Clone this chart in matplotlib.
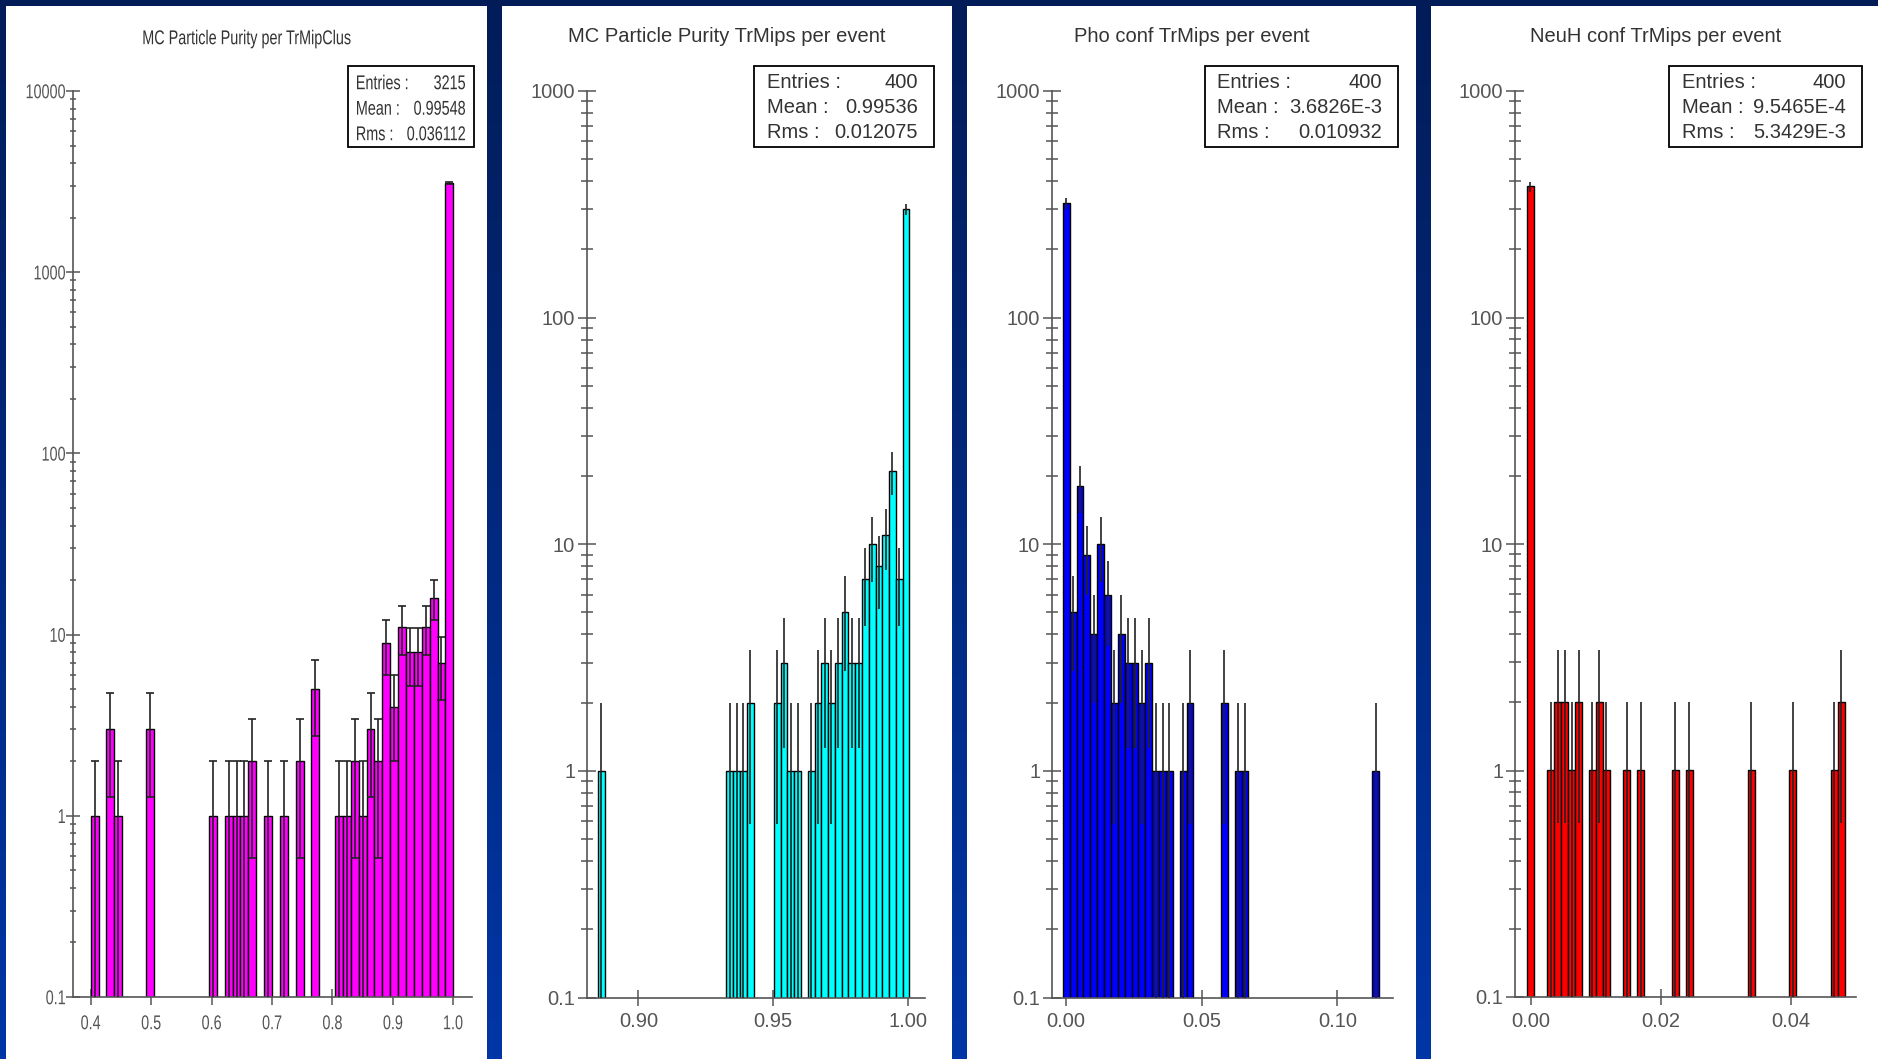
import numpy as np
import matplotlib
matplotlib.use('Agg')
import matplotlib.pyplot as plt
from matplotlib.patches import Rectangle, PathPatch
from matplotlib.ticker import LogLocator, NullFormatter
from matplotlib.textpath import TextPath
from matplotlib.font_manager import FontProperties
from matplotlib.transforms import Affine2D

W, H = 1878, 1059

titles = ['MC Particle Purity per TrMipClus', 'MC Particle Purity TrMips per event',
          'Pho conf TrMips per event', 'NeuH conf TrMips per event']
fill_colors = ['#ff00ff', '#00ffff', '#0000ff', '#ff0000']

# binning (low edge, high edge, number of bins) and bin contents
purity_bins = (0.4, 1.0, 46)
purity_counts = [1, 0, 3, 1, 0, 0, 0, 3, 0, 0, 0, 0, 0, 0, 0, 1, 0, 1, 1, 1,
                 2, 0, 1, 0, 1, 0, 2, 0, 5, 0, 0, 1, 1, 2, 1, 3, 2, 9, 4, 11,
                 8, 8, 11, 16, 7, 3108]

event_purity_bins = (0.8849, 1.0006, 46)
event_purity_counts = [1, 0, 0, 0, 0, 0, 0, 0, 0, 0, 0, 0, 0, 0, 0, 0, 0, 0, 0, 1,
                       1, 1, 2, 0, 0, 0, 2, 3, 1, 1, 0, 1, 2, 3, 2, 3, 5, 3, 3, 7,
                       10, 8, 11, 21, 7, 301]

pho_bins = (-0.00122, 0.1154, 46)
pho_counts = [320, 5, 18, 9, 4, 10, 6, 2, 4, 3, 3, 2, 3, 1, 1, 1, 0, 1, 2, 0,
              0, 0, 0, 2, 0, 1, 1, 0, 0, 0, 0, 0, 0, 0, 0, 0, 0, 0, 0, 0,
              0, 0, 0, 0, 0, 1]

neuh_bins = (-0.000614, 0.04823, 46)
neuh_counts = [379, 0, 0, 1, 2, 2, 1, 2, 0, 1, 2, 1, 0, 0, 1, 0, 1, 0, 0, 0,
               0, 1, 0, 1, 0, 0, 0, 0, 0, 0, 0, 0, 1, 0, 0, 0, 0, 0, 1, 0,
               0, 0, 0, 0, 1, 2]

stat_entries = ['3215', '400', '400', '400']
stat_means = ['0.99548', '0.99536', '3.6826E-3', '9.5465E-4']
stat_rms = ['0.036112', '0.012075', '0.010932', '5.3429E-3']

x_ticks = [[0.4, 0.5, 0.6, 0.7, 0.8, 0.9, 1.0], [0.90, 0.95, 1.00],
           [0.00, 0.05, 0.10], [0.00, 0.02, 0.04]]
x_tick_fmt = ['%.1f', '%.2f', '%.2f', '%.2f']
x_limits = [(0.3707, 1.031), (0.8809, 1.0064), (-0.0052, 0.1205), (-0.0024, 0.04995)]
y_top = [10000, 1000, 1000, 1000]

bins = [purity_bins, event_purity_bins, pho_bins, neuh_bins]
counts = [purity_counts, event_purity_counts, pho_counts, neuh_counts]

# layout in pixels
panel_px = [(6, 487), (502, 952), (967, 1416), (1431, 1878)]
axes_px = [(73, 472, 91, 997), (587, 925, 91, 997.5), (1052, 1393, 91, 997.5), (1515, 1856, 91, 997)]
title_x = [247, 727, 1192, 1656]
box_px = [(348, 474), (754, 934), (1205, 1398), (1669, 1862)]
box_text_px = [(357, 465), (767, 918), (1217, 1382), (1682, 1846)]

FS = 14.5
GREY = '#555555'
TEXT = '#333333'
font = ['Liberation Sans', 'DejaVu Sans']
squeeze_prop = FontProperties(family='Liberation Sans')


def fx(px):
    return px / W


def fy(py):
    return 1 - py / H


def squeezed(x, y, s, ha='left', color=TEXT, size=20.0, sx=0.72):
    # the first panel is a horizontally squashed image: draw its text as squashed paths
    tp = TextPath((0, 0), s, size=size, prop=squeeze_prop)
    ext = tp.get_extents()
    if ha == 'center':
        off = -(ext.x0 + ext.x1) / 2
    elif ha == 'right':
        off = -ext.x1
    else:
        off = -ext.x0
    tr = Affine2D().translate(off, 0).scale(sx, 1).translate(x, H - (y + 0.36 * size))
    fig.add_artist(PathPatch(tp, transform=tr, facecolor=color, edgecolor='none', zorder=6))


fig = plt.figure(figsize=(W / 100, H / 100), dpi=100)

bg = fig.add_axes([0, 0, 1, 1])
grad = np.linspace(0, 1, 256)[:, None]
bg.imshow(grad, aspect='auto', extent=[0, 1, 0, 1], origin='upper',
          cmap=matplotlib.colors.LinearSegmentedColormap.from_list('bg', ['#021c58', '#0036a6']))
bg.set_xlim(0, 1)
bg.set_ylim(0, 1)
bg.axis('off')
for left, right in panel_px:
    bg.add_patch(Rectangle((fx(left), 0), fx(right - left), fy(6), facecolor='white', edgecolor='none'))

for i in range(4):
    lo, hi, n = bins[i]
    edges = np.linspace(lo, hi, n + 1)
    width = edges[1] - edges[0]
    c = np.array(counts[i], dtype=float)
    keep = c > 0
    left_edges = edges[:-1][keep]
    vals = c[keep]
    centers = left_edges + width / 2

    l, r, t, b = axes_px[i]
    ax = fig.add_axes([fx(l), fy(b), fx(r - l), (b - t) / H])
    ax.set_facecolor('none')
    ax.bar(left_edges, vals, width=width, align='edge', bottom=1e-3,
           color=fill_colors[i], edgecolor='black', linewidth=1.0, zorder=2)
    err = np.sqrt(vals)
    low = np.where(vals - err > 0, err, vals - 1e-3)
    cap = 3 if i == 0 else 0
    ax.errorbar(centers, vals, yerr=[low, err], fmt='none', ecolor='#222222',
                elinewidth=1.2, capsize=cap, capthick=1.2, zorder=3)

    ax.set_yscale('log')
    ax.set_ylim(0.1, y_top[i])
    ax.set_xlim(*x_limits[i])
    for s in ['top', 'right']:
        ax.spines[s].set_visible(False)
    for s in ['left', 'bottom']:
        ax.spines[s].set_color(GREY)
        ax.spines[s].set_linewidth(1.2)

    ydec = [0.1, 1, 10, 100, 1000, 10000][:len(str(y_top[i])) + 1]
    ylabels = ['0.1'] + [str(int(v)) for v in ydec[1:]]
    xlabels = [x_tick_fmt[i] % v for v in x_ticks[i]]
    ax.yaxis.set_minor_locator(LogLocator(base=10, subs=np.arange(2, 10)))
    ax.yaxis.set_minor_formatter(NullFormatter())
    ymaj = 9.5 if i == 0 else 13
    ymin = 5 if i == 0 else 8.5
    ax.tick_params(axis='y', which='major', direction='inout', length=ymaj, width=1.1,
                   color=GREY, pad=2)
    ax.tick_params(axis='y', which='minor', direction='inout', length=ymin, width=1.1,
                   color=GREY)
    ax.tick_params(axis='x', which='major', direction='inout', length=11, width=1.1,
                   color=GREY, pad=5)
    ax.tick_params(axis='x', which='minor', length=0)

    rows = [('Entries :', stat_entries[i]), ('Mean :', stat_means[i]), ('Rms :', stat_rms[i])]
    bl, br = box_px[i]
    fig.add_artist(Rectangle((fx(bl), fy(147)), fx(br - bl), (147 - 66) / H,
                             transform=fig.transFigure, facecolor='white',
                             edgecolor='black', linewidth=1.3, zorder=5))
    tl, tr = box_text_px[i]

    if i == 0:
        ax.set_yticks(ydec, [''] * len(ydec))
        ax.set_xticks(x_ticks[i], [''] * len(xlabels))
        for v, lab in zip(ydec, ylabels):
            px, py = ax.transData.transform((x_limits[i][0], v))
            squeezed(px - 8, H - py, lab, ha='right', color=GREY)
        for v, lab in zip(x_ticks[i], xlabels):
            px, py = ax.transData.transform((v, 0.1))
            squeezed(px, H - py + 25, lab, ha='center', color=GREY)
        squeezed(title_x[i], 37, titles[i], ha='center')
        for j, (lab, val) in enumerate(rows):
            squeezed(tl, 82 + 25.5 * j, lab, ha='left')
            squeezed(tr, 82 + 25.5 * j, val, ha='right')
        continue

    ax.set_yticks(ydec, ylabels, fontfamily=font, fontsize=FS, color=GREY)
    ax.set_xticks(x_ticks[i], xlabels, fontfamily=font, fontsize=FS, color=GREY)
    fig.text(fx(title_x[i]), fy(37), titles[i], ha='center', va='center',
             fontsize=FS, color=TEXT, family=font)
    for j, (lab, val) in enumerate(rows):
        y = fy(82 + 25.5 * j)
        fig.text(fx(tl), y, lab, ha='left', va='center', fontsize=FS,
                 color=TEXT, family=font, zorder=6)
        fig.text(fx(tr), y, val, ha='right', va='center', fontsize=FS,
                 color=TEXT, family=font, zorder=6)

fig.savefig('out.png', dpi=100)
